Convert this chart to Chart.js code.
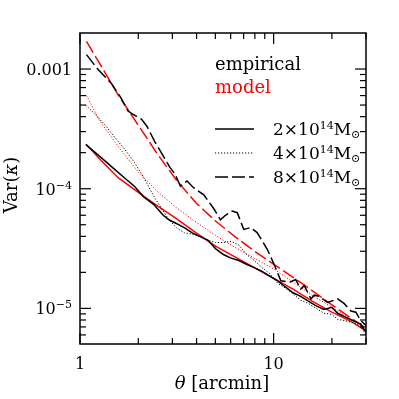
<!DOCTYPE html>
<html>
<head>
<meta charset="utf-8">
<script src="https://cdn.jsdelivr.net/npm/chart.js@4"></script>
<style>
html, body { margin: 0; padding: 0; background: #fff; }
</style>
</head>
<body>
<canvas id="var-chart" width="399" height="399"></canvas>
<script>
// model curves (theta in arcmin)
const modelX = [1.08, 1.26, 1.58, 2.0, 2.51, 3.16, 3.98, 5.01, 6.31, 7.94, 10, 12.6, 15.8, 20, 25.1, 30];
const model2 = [2.34e-4, 1.78e-4, 1.23e-4, 9.3e-5, 7.2e-5, 5.6e-5, 4.27e-5, 3.31e-5, 2.69e-5, 2.19e-5, 1.78e-5, 1.45e-5, 1.15e-5, 9.3e-6, 7.8e-6, 6.5e-6];
const model4 = [6.0e-4, 3.72e-4, 2.24e-4, 1.38e-4, 9.5e-5, 6.9e-5, 5.25e-5, 4.07e-5, 3.24e-5, 2.63e-5, 2.14e-5, 1.66e-5, 1.29e-5, 1.02e-5, 8.1e-6, 6.8e-6];
const model8 = [1.70e-3, 1.12e-3, 6.03e-4, 3.39e-4, 1.95e-4, 1.17e-4, 7.6e-5, 5.37e-5, 3.98e-5, 3.02e-5, 2.34e-5, 1.82e-5, 1.41e-5, 1.07e-5, 8.3e-6, 6.8e-6];

// empirical curves
const empX = [1.07, 1.20, 1.35, 1.51, 1.70, 1.91, 2.14, 2.40, 2.69, 2.88, 3.16, 3.47, 3.80, 4.17, 4.57, 5.01, 5.50, 6.03, 6.61, 7.24, 7.94, 8.71, 9.55, 10.5, 11.5, 12.6, 13.8, 15.1, 16.6, 18.2, 20.0, 21.4, 23.4, 25.7, 28.2, 30];
const emp2 = [2.34e-4, 2.0e-4, 1.7e-4, 1.45e-4, 1.23e-4, 1.05e-4, 8.5e-5, 7.4e-5, 6.0e-5, 5.5e-5, 5.1e-5, 4.7e-5, 4.27e-5, 3.98e-5, 3.72e-5, 3.16e-5, 2.82e-5, 2.63e-5, 2.51e-5, 2.34e-5, 2.19e-5, 2.04e-5, 1.86e-5, 1.70e-5, 1.51e-5, 1.35e-5, 1.26e-5, 1.15e-5, 1.05e-5, 9.8e-6, 1.02e-5, 9.1e-6, 8.5e-6, 7.9e-6, 7.4e-6, 6.3e-6];
const emp4 = [5.0e-4, 4.17e-4, 3.39e-4, 2.69e-4, 2.14e-4, 1.66e-4, 1.23e-4, 8.7e-5, 6.5e-5, 5.5e-5, 4.7e-5, 4.27e-5, 4.17e-5, 3.98e-5, 3.72e-5, 3.55e-5, 3.55e-5, 3.63e-5, 3.39e-5, 2.82e-5, 2.51e-5, 2.19e-5, 1.95e-5, 1.62e-5, 1.48e-5, 1.32e-5, 1.17e-5, 1.10e-5, 1.0e-5, 9.1e-6, 8.9e-6, 8.1e-6, 7.9e-6, 7.6e-6, 7.1e-6, 6.0e-6];
const emp8X = [1.08, 1.24, 1.45, 1.61, 1.77, 1.88, 2.08, 2.22, 2.44, 2.70, 2.92, 3.10, 3.30, 3.57, 3.86, 4.36, 4.91, 5.31, 5.64, 6.11, 6.49, 7.01, 7.60, 8.22, 9.27, 10.05, 10.9, 12.2, 13.0, 13.8, 14.4, 15.6, 16.2, 17.2, 19.0, 21.4, 23.1, 25.1, 26.6, 28.2, 30];
const emp8 = [1.32e-3, 9.9e-4, 7.6e-4, 5.9e-4, 4.47e-4, 4.17e-4, 3.80e-4, 3.31e-4, 2.45e-4, 1.86e-4, 1.50e-4, 1.32e-4, 1.05e-4, 1.16e-4, 1.02e-4, 8.9e-5, 6.8e-5, 5.5e-5, 6.0e-5, 6.5e-5, 6.3e-5, 4.57e-5, 4.73e-5, 4.30e-5, 3.12e-5, 2.34e-5, 1.70e-5, 1.66e-5, 1.74e-5, 1.45e-5, 1.55e-5, 1.20e-5, 1.29e-5, 1.26e-5, 1.12e-5, 1.20e-5, 1.10e-5, 9.5e-6, 9.3e-6, 7.9e-6, 7.2e-6];

// axis ticks
const xMajor = [1, 10];
const xMinor = [2, 3, 4, 5, 6, 7, 8, 9, 20, 30];
const yMajor = [1e-5, 1e-4, 1e-3];
const yMinor = [6e-6, 7e-6, 8e-6, 9e-6, 2e-5, 3e-5, 4e-5, 5e-5, 6e-5, 7e-5, 8e-5, 9e-5, 2e-4, 3e-4, 4e-4, 5e-4, 6e-4, 7e-4, 8e-4, 9e-4];

const FONT = '"DejaVu Serif", serif';

function pts(xs, ys) {
    return xs.map((x, i) => ({ x: x, y: ys[i] }));
}

function line(ctx, x1, y1, x2, y2) {
    ctx.beginPath();
    ctx.moveTo(x1, y1);
    ctx.lineTo(x2, y2);
    ctx.stroke();
}

// draws a row of text pieces (size, offset, italic) starting from x
function runs(ctx, parts, x, y, align, color) {
    ctx.textBaseline = 'alphabetic';
    ctx.textAlign = 'left';
    let w = 0;
    parts.forEach(p => {
        ctx.font = (p.it ? 'italic ' : '') + p.s + 'px ' + FONT;
        w += ctx.measureText(p.t).width;
    });
    let cx = align === 'right' ? x - w : align === 'center' ? x - w / 2 : x;
    parts.forEach(p => {
        ctx.font = (p.it ? 'italic ' : '') + p.s + 'px ' + FONT;
        ctx.fillStyle = p.c || color || '#000';
        ctx.fillText(p.t, cx, y + (p.dy || 0));
        cx += ctx.measureText(p.t).width;
    });
}

const framePlugin = {
    id: 'frame',
    afterDraw(chart) {
        const ctx = chart.ctx;
        const xs = chart.scales.x, ys = chart.scales.y;
        const { left, right, top, bottom } = chart.chartArea;
        ctx.save();
        ctx.strokeStyle = '#000';
        ctx.lineWidth = 1.5;
        ctx.setLineDash([]);
        ctx.strokeRect(left, top, right - left, bottom - top);

        ctx.lineWidth = 1.2;
        xMajor.concat(xMinor).forEach(v => {
            const px = xs.getPixelForValue(v);
            const len = xMajor.includes(v) ? 11 : 6;
            line(ctx, px, bottom, px, bottom - len);
            line(ctx, px, top, px, top + len);
        });
        yMajor.concat(yMinor).forEach(v => {
            const py = ys.getPixelForValue(v);
            const len = yMajor.includes(v) ? 11 : 6;
            line(ctx, left, py, left + len, py);
            line(ctx, right, py, right - len, py);
        });

        // tick labels
        const lx = 72;
        runs(ctx, [{ t: '0.001', s: 16 }], lx, ys.getPixelForValue(1e-3) + 6, 'right');
        runs(ctx, [{ t: '10', s: 16 }, { t: '\u22124', s: 11, dy: -6 }], lx, ys.getPixelForValue(1e-4) + 6, 'right');
        runs(ctx, [{ t: '10', s: 16 }, { t: '\u22125', s: 11, dy: -6 }], lx, ys.getPixelForValue(1e-5) + 6, 'right');
        runs(ctx, [{ t: '1', s: 16 }], xs.getPixelForValue(1), 369, 'center');
        runs(ctx, [{ t: '10', s: 16 }], xs.getPixelForValue(10), 369, 'center');

        // axis titles
        runs(ctx, [{ t: '\u03b8', s: 18, it: true }, { t: ' [arcmin]', s: 18 }], 222, 389, 'center');
        ctx.save();
        ctx.translate(17, 185);
        ctx.rotate(-Math.PI / 2);
        runs(ctx, [{ t: 'Var(', s: 18 }, { t: '\u03ba', s: 18, it: true }, { t: ')', s: 18 }], 0, 0, 'center');
        ctx.restore();

        // legend
        runs(ctx, [{ t: 'empirical', s: 18 }], 215, 70, 'left');
        runs(ctx, [{ t: 'model', s: 18 }], 215, 93, 'left', '#ff0000');
        const rows = [
            { y: 129, dash: [], w: 1.5, m: '2' },
            { y: 153, dash: [1.2, 1.8], w: 1, m: '4' },
            { y: 177, dash: [13, 4], w: 1.5, m: '8' }
        ];
        rows.forEach(r => {
            ctx.setLineDash(r.dash);
            ctx.lineWidth = r.w;
            line(ctx, 215, r.y, 254, r.y);
            ctx.setLineDash([]);
            runs(ctx, [
                { t: r.m + '\u00d710', s: 17 },
                { t: '14', s: 11, dy: -6 },
                { t: 'M', s: 17 },
                { t: '\u2299', s: 11, dy: 3 }
            ], 273, r.y + 6, 'left');
        });
        ctx.restore();
    }
};

function ds(data, color, dash, width) {
    return {
        data: data,
        borderColor: color,
        backgroundColor: color,
        borderWidth: width,
        borderDash: dash,
        pointRadius: 0,
        tension: 0,
        fill: false
    };
}

new Chart(document.getElementById('var-chart'), {
    type: 'line',
    data: {
        datasets: [
            ds(pts(empX, emp2), '#000', [], 1.5),
            ds(pts(empX, emp4), '#000', [1.2, 1.8], 1),
            ds(pts(emp8X, emp8), '#000', [13, 4], 1.5),
            ds(pts(modelX, model2), '#ff0000', [], 1.5),
            ds(pts(modelX, model4), '#ff0000', [1.2, 1.8], 1),
            ds(pts(modelX, model8), '#ff0000', [13, 4], 1.5)
        ]
    },
    options: {
        responsive: false,
        animation: false,
        devicePixelRatio: 1,
        layout: { padding: { left: 80, right: 33, top: 33, bottom: 55 } },
        scales: {
            x: { type: 'logarithmic', min: 1, max: 30, display: false },
            y: { type: 'logarithmic', min: 5.04e-6, max: 2.0e-3, display: false }
        },
        plugins: {
            legend: { display: false },
            tooltip: { enabled: false }
        }
    },
    plugins: [framePlugin]
});
</script>
</body>
</html>
